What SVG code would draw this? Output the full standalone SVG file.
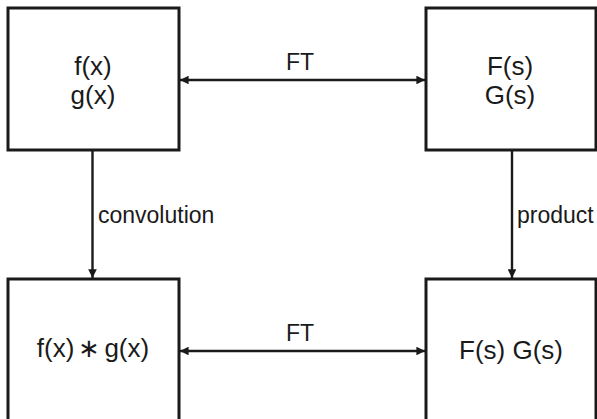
<svg xmlns="http://www.w3.org/2000/svg" width="597" height="419" viewBox="0 0 597 419">
<style>
.box{fill:#fff;stroke:#1a1a1a;stroke-width:3}
.t{font-family:"Liberation Sans",Arial,sans-serif;font-size:26px;fill:#1a1a1a;text-anchor:middle}
.s{font-family:"Liberation Sans",Arial,sans-serif;font-size:23px;fill:#1a1a1a}
.c{stroke:#1a1a1a;stroke-width:2.4;fill:none}
</style>
<defs>
<marker id="ah" viewBox="0 0 10 10" refX="10" refY="5" markerWidth="4.5" markerHeight="3.6" orient="auto-start-reverse" markerUnits="strokeWidth">
<path d="M0,0 L10,5 L0,10 z" fill="#1a1a1a"/>
</marker>
</defs>
<g id="connectors">
<line class="c" x1="180" y1="80" x2="425" y2="80" marker-start="url(#ah)" marker-end="url(#ah)"/>
<text class="s" x="300" y="70" text-anchor="middle">FT</text>
<line class="c" x1="180" y1="351" x2="425" y2="351" marker-start="url(#ah)" marker-end="url(#ah)"/>
<text class="s" x="300" y="341" text-anchor="middle">FT</text>
<line class="c" x1="92.5" y1="151" x2="92.5" y2="278"  marker-end="url(#ah)"/>
<text class="s" x="98" y="223">convolution</text>
<line class="c" x1="512" y1="151" x2="512" y2="278"  marker-end="url(#ah)"/>
<text class="s" x="517" y="223">product</text>
</g>
<g id="node-fg">
<rect class="box" x="8" y="8" width="171" height="142"/>
<text class="t" x="93" y="75">f(x)</text>
<text class="t" x="93" y="104">g(x)</text>
</g>
<g id="node-FG">
<rect class="box" x="426" y="8" width="170" height="142"/>
<text class="t" x="510" y="75">F(s)</text>
<text class="t" x="510" y="104">G(s)</text>
</g>
<g id="node-conv">
<rect class="box" x="8" y="279" width="171" height="150"/>
<text class="t" x="93" y="357">f(x)<tspan dx="4">∗</tspan><tspan dx="4">g(x)</tspan></text>
</g>
<g id="node-prod">
<rect class="box" x="426" y="279" width="170" height="150"/>
<text class="t" x="511" y="359">F(s) G(s)</text>
</g>
</svg>
